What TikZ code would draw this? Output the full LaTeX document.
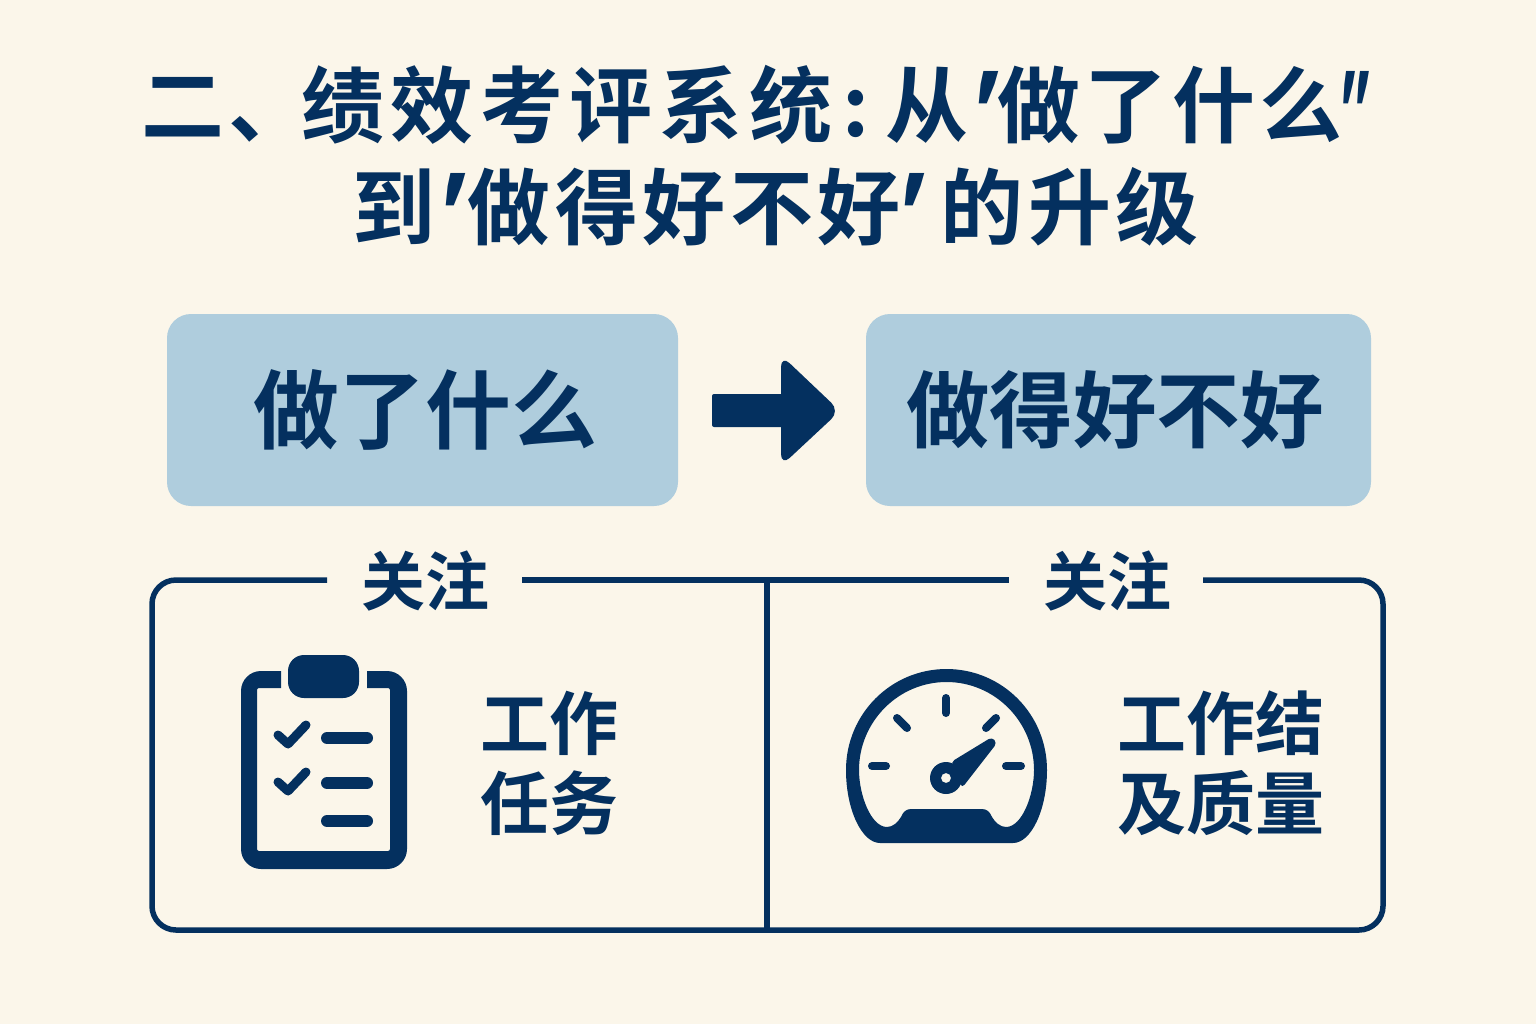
\documentclass[tikz,border=0pt]{standalone}
\usepackage{fontspec}
\setmainfont{Noto Sans CJK SC}
\newfontfamily\cjk{Noto Sans CJK SC Medium}[BoldFont={Noto Sans CJK SC Bold}]
\newfontfamily\cjkthin{Noto Sans CJK SC}[FakeSlant=0.25]
\definecolor{paper}{HTML}{FBF6EA}
\definecolor{navy}{HTML}{04305F}
\definecolor{paleblue}{HTML}{AFCDDD}
\newcommand{\pxfont}[1]{\fontsize{#1}{#1}\cjk\bfseries\selectfont}
\newcommand{\thinq}[1]{{\cjkthin\fontsize{41.5}{41.5}\selectfont #1}}
\newcommand{\wide}[1]{{\addfontfeature{LetterSpace=8}#1}}
\tikzset{
  txt/.style={inner sep=0pt,text=navy,anchor=center},
  titletxt/.style={inner sep=0pt,text=navy,anchor=west,font=\pxfont{41.5}\addfontfeature{LetterSpace=5.5}},
  boxtxt/.style={txt,font=\pxfont{43}},
  boxtxtb/.style={txt,font=\pxfont{41.8}},
  headtxt/.style={txt,font=\pxfont{32}},
  bodytxt/.style={txt,font=\pxfont{34.5}},
  panel/.style={fill=paleblue,rounded corners=12pt,inner sep=0pt},
  frameline/.style={draw=navy,line width=2.75pt},
  tick/.style={draw=navy,line width=4pt,line cap=round},
  listbar/.style={draw=navy,line width=6pt,line cap=round},
  checkmark/.style={draw=navy,line width=4.5pt,line cap=round,line join=round},
}
\begin{document}
\begin{tikzpicture}[x=0.5pt,y=-0.5pt]
\useasboundingbox (0,0) rectangle (1536,1024);
\fill[paper] (0,0) rectangle (1536,1024);
% title
\node[titletxt] (t1) at (141,105) {二、\hspace{-5.5pt}\wide{绩效考评系统}\hspace{5pt}:\hspace{8pt}从\hspace{-4pt}\thinq{'}\hspace{4pt}做了什么\hspace{-5pt}\scalebox{0.6}[1]{\thinq{"}}};
\node[titletxt] (t2) at (352,207) {到\hspace{-4pt}\thinq{'}\hspace{5.5pt}做得好不好\hspace{-7pt}\thinq{'}\hspace{12.5pt}的升级};
% boxes
\node[panel,minimum width=255.5pt,minimum height=96pt] (b1) at (422.5,410) {};
\node[panel,minimum width=252.5pt,minimum height=96pt] (b2) at (1118.5,410) {};
\node[boxtxt] at (425.5,410) {做了什么};
\node[boxtxtb] at (1115,410) {做得好不好};
% arrow
\fill[navy,rounded corners=1pt] (712,394) -- (790,394) -- (790,427) -- (712,427) -- cycle;
\fill[navy,rounded corners=6pt] (781,411) -- (781,355) -- (840,411) -- (781,466) -- cycle;
% frame
\coordinate (gl1) at (327,580);
\coordinate (gl2) at (522,580);
\coordinate (gr1) at (1009,580);
\coordinate (gr2) at (1203,580);
\coordinate (dt) at (767,580);
\coordinate (db) at (767,930);
\draw[frameline,rounded corners=12pt] (gl1) -- (152,580) -- (152,930) -- (1383,930) -- (1383,580) -- (gr2);
\draw[frameline] (gl2) -- (gr1);
\draw[frameline] (dt) -- (db);
\node[headtxt] (h1) at (425,581) {关注};
\node[headtxt] (h2) at (1107,581) {关注};
% clipboard
\fill[navy,even odd rule]
  (281,671) [rounded corners=10pt] -- (241,671) -- (241,869) -- (407,869) -- (407,671) [sharp corners] -- (367,671) -- (367,688)
  [rounded corners=1pt] -- (390,688) -- (390,851) -- (257,851) -- (257,688) [sharp corners] -- (281,688) -- cycle;
\fill[navy,rounded corners=8pt] (288,655) rectangle (359,698);
\draw[checkmark] (278,735) -- (288,744) -- (306,725);
\draw[checkmark] (278,782) -- (288,791) -- (306,772);
\draw[listbar] (327,738) -- (367,738);
\draw[listbar] (327,783) -- (367,783);
\draw[listbar] (327,821) -- (367,821);
\node[bodytxt] (c1) at (549,723) {工作};
\node[bodytxt] (c2) at (549,803) {任务};
% gauge
\fill[navy,even odd rule]
  (880,843) .. controls (862,843) and (846,810) .. (846,770)
  .. controls (846,714) and (891,669) .. (946.5,669)
  .. controls (1002,669) and (1047,714) .. (1047,770)
  .. controls (1047,810) and (1031,843) .. (1013,843) -- cycle
  (859,770) .. controls (859,722) and (898,682) .. (946.5,682)
  .. controls (995,682) and (1034,722) .. (1034,770)
  .. controls (1034,795) and (1022,827) .. (1006,827)
  .. controls (1000,827) and (995,822) .. (992,817)
  .. controls (990,812) and (987,809) .. (982,809)
  -- (911,809)
  .. controls (906,809) and (903,812) .. (901,817)
  .. controls (898,822) and (893,827) .. (887,827)
  .. controls (871,827) and (859,795) .. (859,770) -- cycle;
\draw[tick] (946,698) -- (946,713);
\draw[tick] (897,718) -- (907,728);
\draw[tick] (996,718) -- (986,728);
\draw[tick] (872,766) -- (886,766);
\draw[tick] (1006,766) -- (1021,766);
\fill[navy,rounded corners=2pt] (951,762) -- (992,737) -- (997,743) -- (962,788) -- cycle;
\fill[navy,even odd rule] (946,778) circle[radius=16] (946,778) circle[radius=5];
\node[bodytxt] (d1) at (1221,723) {工作结};
\node[bodytxt] (d2) at (1221,803) {及质量};
\end{tikzpicture}
\end{document}
